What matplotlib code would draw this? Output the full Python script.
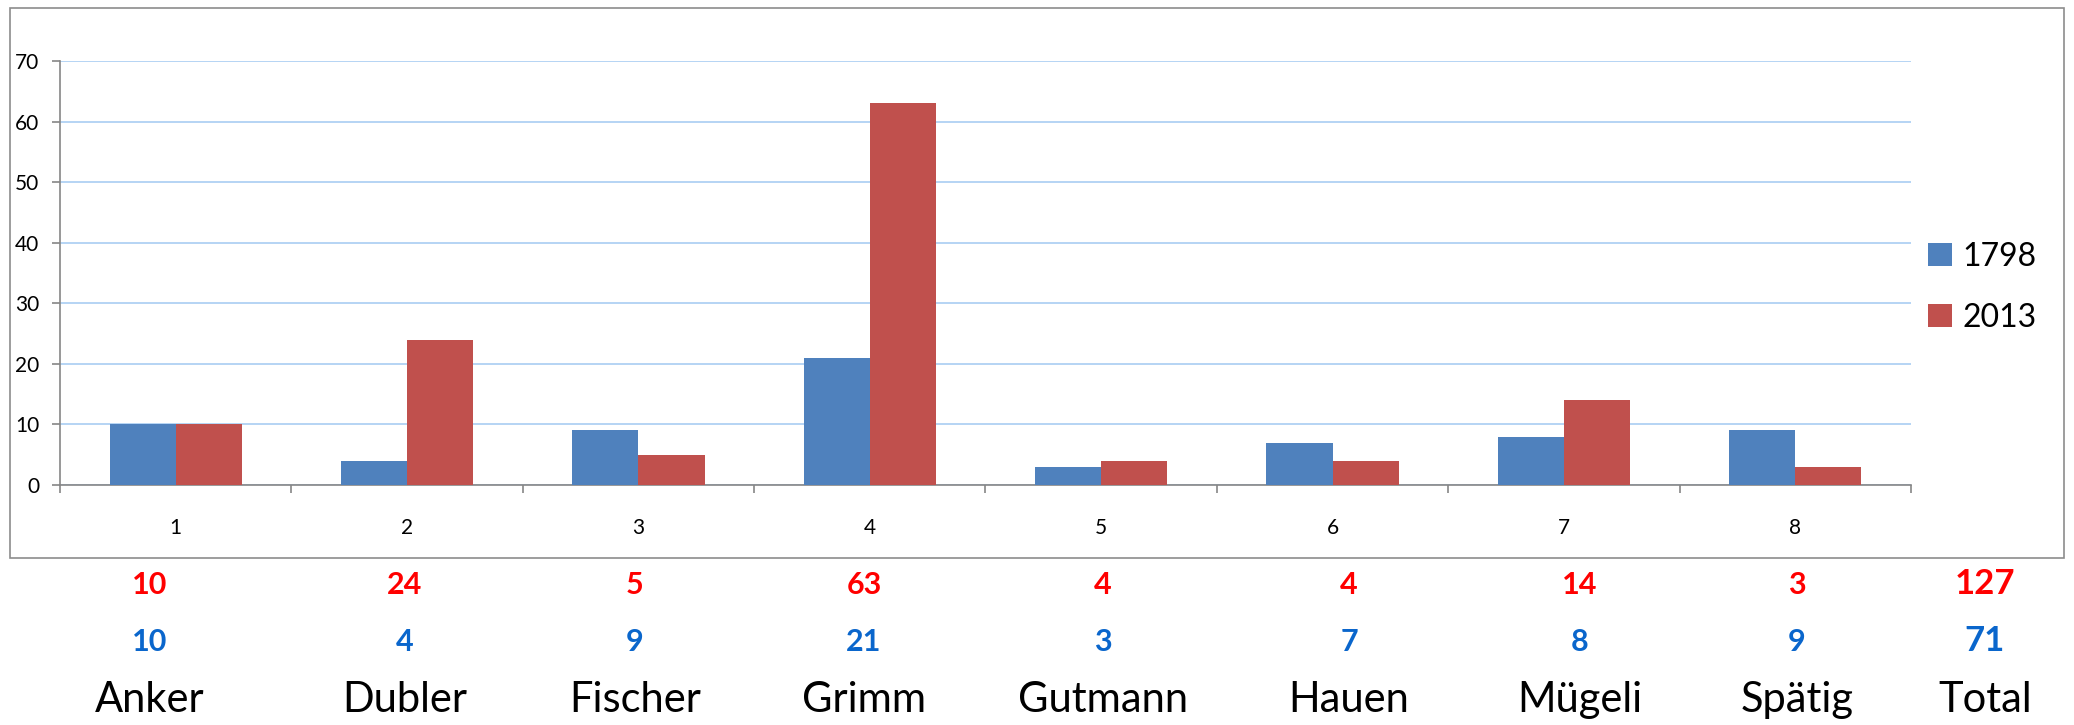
import matplotlib
matplotlib.use("Agg")
import matplotlib.pyplot as plt
from matplotlib.patches import Rectangle
import numpy as np

# ---- data ----
categories = [1, 2, 3, 4, 5, 6, 7, 8]
names = ["Anker", "Dubler", "Fischer", "Grimm", "Gutmann", "Hauen", "Mügeli", "Spätig"]
series_1798 = [10, 4, 9, 21, 3, 7, 8, 9]
series_2013 = [10, 24, 5, 63, 4, 4, 14, 3]
total_label = "Total"
yticks = [0, 10, 20, 30, 40, 50, 60, 70]

W, H = 2074, 725
plt.rcParams['font.family'] = ['Lato', 'DejaVu Sans']
fig = plt.figure(figsize=(W / 100, H / 100), dpi=100)

# chart border box
fig.patches.append(Rectangle((10 / W, 1 - 558 / H), (2064 - 10) / W, (558 - 8) / H,
                             transform=fig.transFigure, fill=False,
                             edgecolor='#8c8c8c', linewidth=1.2))

ax = fig.add_axes([60 / W, 1 - 485 / H, (1911 - 60) / W, (485 - 61) / H])
x = np.arange(len(categories))
bw = 1 / 3.5
c_blue = '#4f81bd'
c_red = '#c0504d'
ax.bar(x - bw / 2, series_1798, width=bw, color=c_blue, label='1798', zorder=3)
ax.bar(x + bw / 2, series_2013, width=bw, color=c_red, label='2013', zorder=3)

ax.set_xlim(-0.5, len(categories) - 0.5)
ax.set_ylim(0, 70)
ax.set_yticks(yticks)
ax.set_yticklabels([str(v) for v in yticks], fontsize=15)
ax.yaxis.grid(True, color='#a9cdf2', linewidth=1.2, zorder=0)
ax.set_axisbelow(True)

ax.set_xticks(x)
ax.set_xticklabels([str(c) for c in categories], fontsize=15)
ax.set_xticks(np.arange(-0.5, len(categories)), minor=True)
ax.tick_params(axis='x', which='major', length=0, pad=24)
ax.tick_params(axis='x', which='minor', length=6, color='#868686', width=1.2, direction='out')
ax.tick_params(axis='y', length=6, color='#868686', width=1.2, direction='out', pad=9)

for s in ['top', 'right']:
    ax.spines[s].set_visible(False)
for s in ['left', 'bottom']:
    ax.spines[s].set_color('#868686')
    ax.spines[s].set_linewidth(1.2)

leg = ax.legend(loc='upper left', bbox_to_anchor=(1918 / W, 1 - 232 / H),
                bbox_transform=fig.transFigure, frameon=False, fontsize=23,
                handlelength=0.75, handleheight=0.75, handletextpad=0.35,
                labelspacing=0.97, borderpad=0.3, borderaxespad=0)

# bottom table
xs = [150, 405, 635, 864, 1103, 1349, 1580, 1797]
x_total = 1985
red = '#ff0000'
blue = '#0a66cc'
for xi, nm, v1, v2 in zip(xs, names, series_1798, series_2013):
    fig.text(xi / W, 1 - 594 / H, str(v2), color=red, fontsize=22, fontweight='bold',
             ha='center', va='baseline')
    fig.text(xi / W, 1 - 651 / H, str(v1), color=blue, fontsize=22, fontweight='bold',
             ha='center', va='baseline')
    fig.text(xi / W, 1 - 712 / H, nm, color='black', fontsize=30,
             ha='center', va='baseline')
fig.text(x_total / W, 1 - 594 / H, str(sum(series_2013)), color=red, fontsize=25,
         fontweight='bold', ha='center', va='baseline')
fig.text(x_total / W, 1 - 651 / H, str(sum(series_1798)), color=blue, fontsize=25,
         fontweight='bold', ha='center', va='baseline')
fig.text(x_total / W, 1 - 712 / H, total_label, color='black', fontsize=30,
         ha='center', va='baseline')

fig.savefig('out.png', dpi=100, facecolor='white')
